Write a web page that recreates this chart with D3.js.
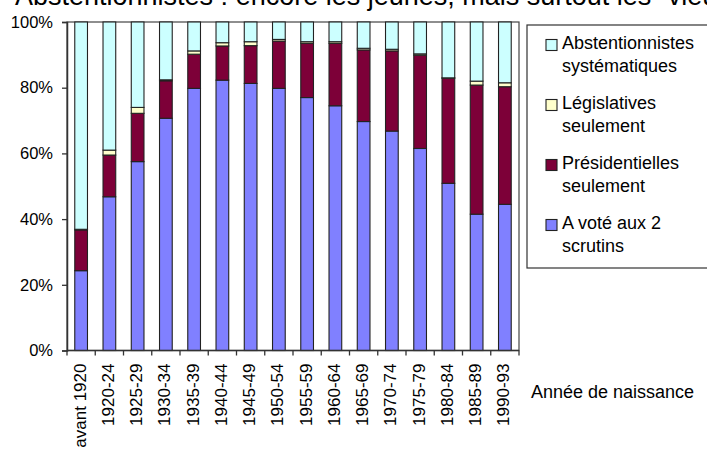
<!DOCTYPE html>
<html>
<head>
<meta charset="utf-8">
<script src="https://cdn.jsdelivr.net/npm/d3@7"></script>
<style>
  html, body { margin: 0; padding: 0; background: #fff; }
  svg { display: block; font-family: "Liberation Sans", Arial, sans-serif; }
</style>
</head>
<body>
<svg id="chart" width="707" height="450"></svg>
<script>
// Génération de naissance
const categories = ["avant 1920", "1920-24", "1925-29", "1930-34", "1935-39", "1940-44",
  "1945-49", "1950-54", "1955-59", "1960-64", "1965-69", "1970-74", "1975-79",
  "1980-84", "1985-89", "1990-93"];

// Part de chaque comportement électoral (%)
const deuxScrutins    = [24.3, 46.8, 57.5, 70.7, 79.8, 82.3, 81.3, 79.8, 77.0, 74.5, 69.7, 66.8, 61.5, 50.9, 41.5, 44.5];
const presidentielles = [12.4, 12.7, 14.7, 11.4, 10.4, 10.4, 11.5, 14.4, 16.5, 19.0, 21.8, 24.4, 28.4, 32.0, 39.3, 35.8];
const legislatives    = [0.2, 1.5, 1.8, 0.3, 1.0, 1.0, 1.2, 0.5, 0.5, 0.5, 0.5, 0.5, 0.4, 0.1, 1.2, 1.2];
const abstention      = [63.1, 39.0, 26.0, 17.6, 8.8, 6.3, 6.0, 5.3, 6.0, 6.0, 8.0, 8.3, 9.7, 17.0, 18.0, 18.5];

const yTicks = [0, 20, 40, 60, 80, 100];

const seriesKeys   = ["deux", "pres", "legis", "abst"];
const seriesLabels = {
  abst:  ["Abstentionnistes", "systématiques"],
  legis: ["Législatives", "seulement"],
  pres:  ["Présidentielles", "seulement"],
  deux:  ["A voté aux 2", "scrutins"]
};
const colors = { deux: "#8080ff", pres: "#7d0038", legis: "#ffffcc", abst: "#ccffff" };

const rows = categories.map((c, i) => ({
  cat: c, deux: deuxScrutins[i], pres: presidentielles[i], legis: legislatives[i], abst: abstention[i]
}));

const svg = d3.select("#chart");
const plotLeft = 67, plotRight = 519, plotTop = 22, plotBottom = 350.5;

const x = d3.scaleBand().domain(categories).range([plotLeft, plotRight])
  .paddingInner(0.55).paddingOuter(0.275);
const y = d3.scaleLinear().domain([0, 100]).range([plotBottom, plotTop]);

// Titre (en partie hors cadre)
svg.append("text")
  .attr("x", 15).attr("y", 5)
  .attr("font-size", 27).attr("fill", "#000")
  .text("Abstentionnistes : encore les jeunes, mais surtout les \u201cvieux\u201d");

// Cadre de la zone de tracé
svg.append("rect")
  .attr("x", plotLeft).attr("y", plotTop)
  .attr("width", plotRight - plotLeft).attr("height", plotBottom - plotTop)
  .attr("fill", "#fff").attr("stroke", "#444").attr("stroke-width", 1.2);

// Barres empilées
const stacked = d3.stack().keys(seriesKeys)(rows);
svg.append("g").selectAll("g").data(stacked).join("g")
  .attr("fill", d => colors[d.key])
  .selectAll("rect").data(d => d).join("rect")
  .attr("x", d => x(d.data.cat))
  .attr("width", x.bandwidth())
  .attr("y", d => y(d[1]))
  .attr("height", d => y(d[0]) - y(d[1]))
  .attr("stroke", "#222").attr("stroke-width", 1.1);

// Axe des ordonnées
const yAxis = svg.append("g")
  .attr("transform", `translate(${plotLeft},0)`)
  .call(d3.axisLeft(y).tickValues(yTicks).tickFormat(d => d + "%").tickSize(5).tickPadding(9));
yAxis.select(".domain").attr("stroke", "#333").attr("stroke-width", 1.5);
yAxis.selectAll(".tick line").attr("stroke", "#333").attr("stroke-width", 1.3);
yAxis.selectAll("text").attr("font-size", 16.5).attr("fill", "#000")
  .attr("font-family", "Liberation Sans, Arial, sans-serif");

// Axe des abscisses : graduations entre les catégories
const step = x.step();
const x0 = x(categories[0]) - x.paddingOuter() * step;
const xAxis = svg.append("g").attr("transform", `translate(0,${plotBottom})`);
xAxis.append("line")
  .attr("x1", plotLeft).attr("x2", plotRight)
  .attr("stroke", "#333").attr("stroke-width", 1.5);
xAxis.selectAll("line.tick").data(d3.range(categories.length + 1)).join("line")
  .attr("class", "tick")
  .attr("x1", i => x0 + i * step).attr("x2", i => x0 + i * step)
  .attr("y1", 0).attr("y2", 5)
  .attr("stroke", "#333").attr("stroke-width", 1.3);
xAxis.selectAll("text").data(categories).join("text")
  .attr("transform", d => `translate(${x(d) + x.bandwidth() / 2 - 1.5},13) rotate(-90)`)
  .attr("text-anchor", "end")
  .attr("dy", "0.35em")
  .attr("font-size", 17).attr("fill", "#000")
  .text(d => d);

// Titre de l'axe des abscisses
svg.append("text")
  .attr("x", 531).attr("y", 398)
  .attr("font-size", 18).attr("fill", "#000")
  .text("Année de naissance");

// Légende
const legend = svg.append("g");
legend.append("rect")
  .attr("x", 527).attr("y", 25).attr("width", 200).attr("height", 243)
  .attr("fill", "#fff").attr("stroke", "#333").attr("stroke-width", 1.2);
const legendOrder = ["abst", "legis", "pres", "deux"];
const items = legend.selectAll("g.item").data(legendOrder).join("g")
  .attr("class", "item")
  .attr("transform", (d, i) => `translate(546,${48.5 + i * 60})`);
items.append("rect")
  .attr("x", 0).attr("y", -9).attr("width", 11).attr("height", 11)
  .attr("fill", d => colors[d]).attr("stroke", "#222").attr("stroke-width", 1.1);
items.append("text")
  .attr("x", 16).attr("y", 0)
  .attr("font-size", 18).attr("fill", "#000")
  .selectAll("tspan").data(d => seriesLabels[d]).join("tspan")
  .attr("x", 16).attr("dy", (d, i) => i === 0 ? 0 : 23.5)
  .text(d => d);
</script>
</body>
</html>
